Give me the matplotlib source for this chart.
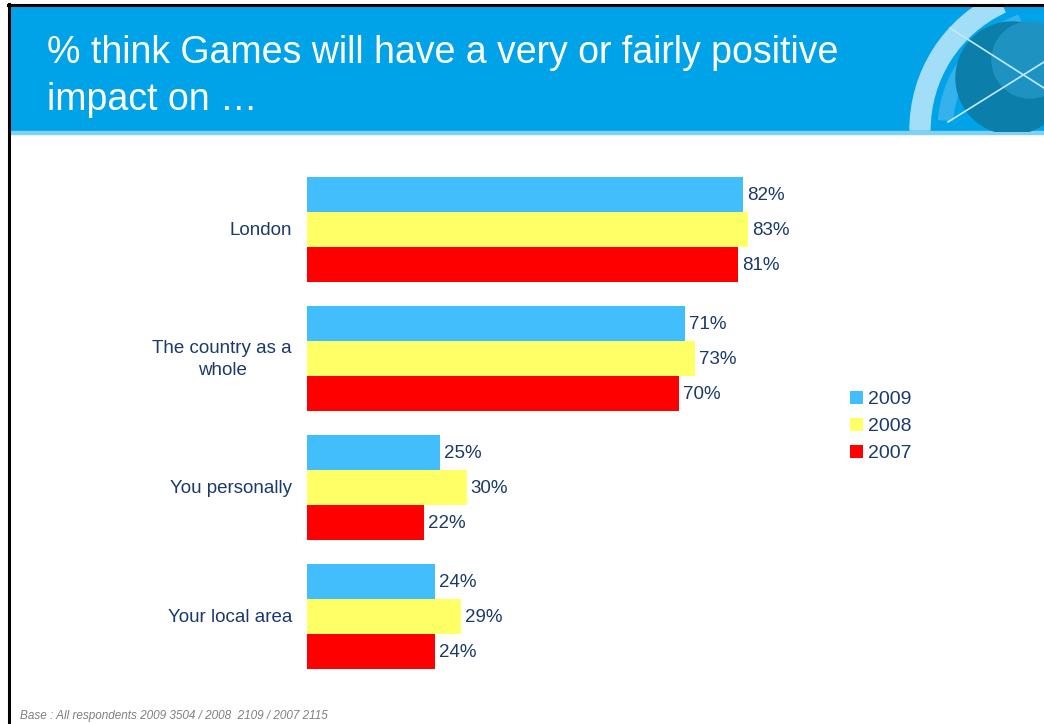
import matplotlib.pyplot as plt
from matplotlib.patches import Rectangle, Wedge, Circle

categories = ['London', 'The country as a\nwhole', 'You personally', 'Your local area']
years = ['2009', '2008', '2007']
v2009 = [82, 71, 25, 24]
v2008 = [83, 73, 30, 29]
v2007 = [81, 70, 22, 24]
colors = ['#42BEFD', '#FFFF66', '#FF0000']
title = '% think Games will have a very or fairly positive\nimpact on \u2026'
footnote = 'Base : All respondents 2009 3504 / 2008  2109 / 2007 2115'

W, H = 1044, 724
navy = '#1B3A6B'
fig = plt.figure(figsize=(W / 100, H / 100), dpi=100)

# header band, frame lines and logo drawn in pixel coordinates
bg = fig.add_axes([0, 0, 1, 1])
bg.set_xlim(0, W)
bg.set_ylim(H, 0)
bg.axis('off')
header = Rectangle((9, 5), W, 127, color='#00A2E8', zorder=1)
bg.add_patch(header)
bg.add_patch(Rectangle((9, 131), W, 3, color='#7FD2F6', zorder=2))
bg.plot([9, 9], [4, H], color='black', lw=2.2, zorder=5)
bg.plot([8, W], [5, 5], color='black', lw=2.2, zorder=5)
bg.text(47, 35, title, color='white', fontsize=27, va='top', ha='left',
        linespacing=1.38, fontfamily='Liberation Sans', zorder=4)

# logo, clipped to the header band
logo = [
    Wedge((1060, 130), 150, 180, 245, width=20, color='#A3DEF8', zorder=2),
    Wedge((1060, 130), 122, 185, 250, width=14, color='#33B2EC', zorder=2),
    Circle((1012, 78), 56, color='#0B7FAA', zorder=2),
    Circle((1030, 60), 38, color='#1E93C2', zorder=2),
]
for p in logo:
    bg.add_patch(p)
    p.set_clip_path(header)
for xs, ys in [([950, 1044], [28, 88]), ([948, 1044], [122, 62])]:
    ln, = bg.plot(xs, ys, color='#BDEBFF', lw=1.2, zorder=3)
    ln.set_clip_path(header)

bg.text(20, 716, footnote, color='#808080', fontsize=8.5, style='italic',
        fontfamily='Liberation Sans', va='center')

# bar chart
step = 3.686
ax = fig.add_axes([307 / W, 55 / H, 531.7 / W, 492 / H])
ax.set_xlim(0, 100)
ax.set_ylim(3 * step + 3, 0)
ax.axis('off')
for j, (vals, yr) in enumerate(zip([v2009, v2008, v2007], years)):
    ys = [i * step + j + 0.5 for i in range(len(categories))]
    ax.barh(ys, vals, height=1.0, color=colors[j], label=yr)
    for y, v in zip(ys, vals):
        ax.text(v + 0.8, y + 0.03, f'{v}%', va='center', ha='left', color=navy,
                fontsize=13.5, fontfamily='Liberation Sans')
for i, cat in enumerate(categories):
    ax.text(-2.8, i * step + 1.53, cat, va='center', ha='right', multialignment='center',
            color=navy, fontsize=13.5, fontfamily='Liberation Sans', linespacing=1.4)

leg = ax.legend(loc='upper left', bbox_to_anchor=(543 / 531.7, (669 - 391) / 492),
                frameon=False, handlelength=0.65, handleheight=0.65, handletextpad=0.3,
                labelspacing=0.5, prop={'family': 'Liberation Sans', 'size': 14},
                borderaxespad=0, borderpad=0)
for t in leg.get_texts():
    t.set_color(navy)

fig.savefig('out.png', dpi=100)
